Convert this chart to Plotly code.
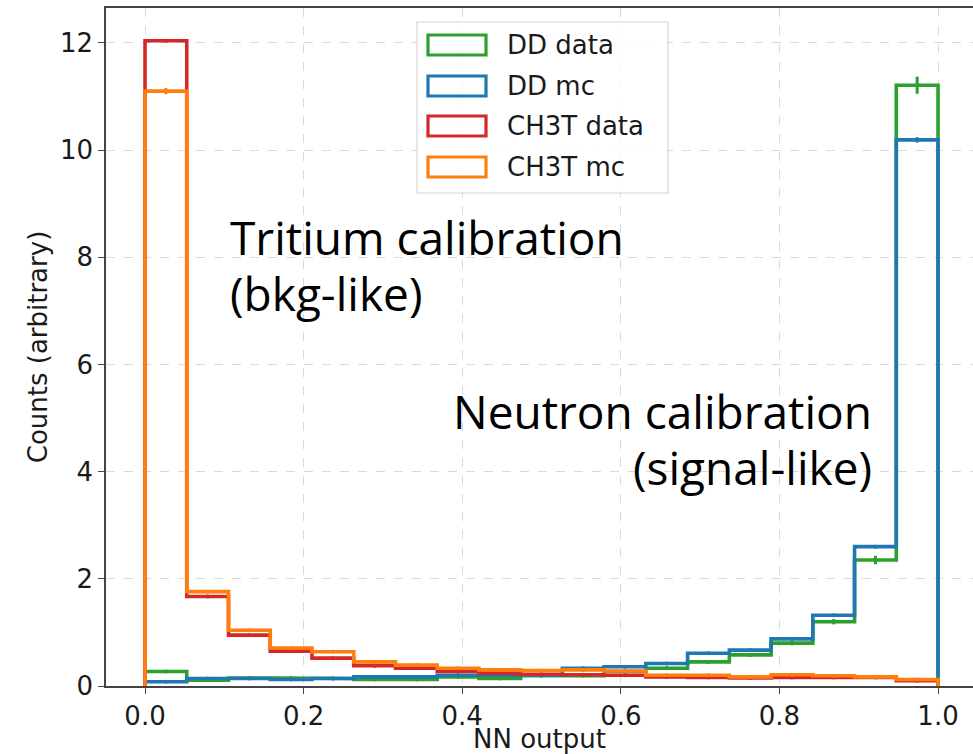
import plotly.graph_objects as go

# ---------------- data ----------------
bin_edges = [0.0, 0.05263, 0.10526, 0.15789, 0.21053, 0.26316, 0.31579, 0.36842,
             0.42105, 0.47368, 0.52632, 0.57895, 0.63158, 0.68421, 0.73684,
             0.78947, 0.84211, 0.89474, 0.94737, 1.0]

dd_data = [0.27, 0.11, 0.15, 0.15, 0.14, 0.12, 0.12, 0.17, 0.14, 0.19,
           0.19, 0.27, 0.33, 0.45, 0.58, 0.80, 1.20, 2.35, 11.21]
dd_data_err = [0.02, 0.02, 0.02, 0.02, 0.02, 0.02, 0.02, 0.02, 0.02, 0.02,
               0.02, 0.02, 0.03, 0.03, 0.03, 0.04, 0.05, 0.08, 0.16]

dd_mc = [0.08, 0.14, 0.14, 0.12, 0.14, 0.17, 0.17, 0.20, 0.20, 0.20,
         0.33, 0.36, 0.42, 0.61, 0.67, 0.88, 1.32, 2.60, 10.19]
dd_mc_err = [0.01, 0.01, 0.01, 0.01, 0.01, 0.01, 0.01, 0.01, 0.01, 0.01,
             0.01, 0.01, 0.01, 0.01, 0.01, 0.02, 0.02, 0.03, 0.05]

ch3t_data = [12.04, 1.67, 0.95, 0.65, 0.52, 0.38, 0.33, 0.27, 0.24, 0.22,
             0.21, 0.20, 0.17, 0.16, 0.15, 0.16, 0.16, 0.16, 0.10]
ch3t_data_err = [0.02, 0.01, 0.01, 0.01, 0.01, 0.01, 0.01, 0.01, 0.01, 0.01,
                 0.01, 0.01, 0.01, 0.01, 0.01, 0.01, 0.01, 0.01, 0.01]

ch3t_mc = [11.10, 1.76, 1.04, 0.71, 0.64, 0.45, 0.39, 0.33, 0.30, 0.29,
           0.30, 0.28, 0.20, 0.20, 0.17, 0.21, 0.19, 0.17, 0.12]
ch3t_mc_err = [0.06, 0.02, 0.01, 0.01, 0.01, 0.01, 0.01, 0.01, 0.01, 0.01,
               0.01, 0.01, 0.01, 0.01, 0.01, 0.01, 0.01, 0.01, 0.01]

series_names = ["DD data", "DD mc", "CH3T data", "CH3T mc"]
series_values = [dd_data, dd_mc, ch3t_data, ch3t_mc]
series_errors = [dd_data_err, dd_mc_err, ch3t_data_err, ch3t_mc_err]
series_colors = ["#2ca02c", "#1f77b4", "#d62728", "#ff7f0e"]

x_ticks = [0.0, 0.2, 0.4, 0.6, 0.8, 1.0]
x_tick_labels = ["0.0", "0.2", "0.4", "0.6", "0.8", "1.0"]
y_ticks = [0, 2, 4, 6, 8, 10, 12]
y_tick_labels = ["0", "2", "4", "6", "8", "10", "12"]

# ---------------- figure ----------------
W, H = 973, 754
L, R, T, B = 106, 0, 8, 68
PW, PH = W - L - R, H - T - B


def px_x(p):
    return (p - L) / PW


def px_y(p):
    return (H - B - p) / PH


fig = go.Figure()

for name, vals, errs, col in zip(series_names, series_values, series_errors, series_colors):
    xs = [bin_edges[0]]
    ys = [0]
    for i, v in enumerate(vals):
        xs += [bin_edges[i], bin_edges[i + 1]]
        ys += [v, v]
    xs.append(bin_edges[-1])
    ys.append(0)
    fig.add_trace(go.Scatter(x=xs, y=ys, mode="lines", name=name,
                             line=dict(color=col, width=3.6),
                             showlegend=False, hoverinfo="skip"))
    centers = [(bin_edges[i] + bin_edges[i + 1]) / 2 for i in range(len(vals))]
    fig.add_trace(go.Scatter(x=centers, y=vals, mode="markers", name=name,
                             marker=dict(color=col, size=4),
                             error_y=dict(type="data", array=errs, visible=True,
                                          color=col, thickness=3, width=0),
                             showlegend=False))

shapes = []
annotations = []

# legend box (matplotlib-like)
shapes.append(dict(type="rect", xref="paper", yref="paper",
                   x0=px_x(417), x1=px_x(668), y0=px_y(193), y1=px_y(22),
                   line=dict(color="#d6d6d6", width=1.2),
                   fillcolor="rgba(255,255,255,0.85)", layer="above"))
row_centers = [45, 86, 126, 167]
for name, col, rc in zip(series_names, series_colors, row_centers):
    shapes.append(dict(type="rect", xref="paper", yref="paper",
                       x0=px_x(428), x1=px_x(486), y0=px_y(rc + 10), y1=px_y(rc - 10),
                       line=dict(color=col, width=3.2), fillcolor="rgba(0,0,0,0)",
                       layer="above"))
    annotations.append(dict(xref="paper", yref="paper", x=px_x(505), y=px_y(rc),
                            xanchor="left", yanchor="middle", text=name, showarrow=False,
                            font=dict(family="DejaVu Sans", size=26, color="#1a1a1a")))

big_font = dict(family="Open Sans", size=46, color="black")
annotations += [
    dict(xref="paper", yref="paper", x=px_x(228), y=px_y(204), xanchor="left",
         yanchor="top", text="Tritium calibration", showarrow=False, font=big_font),
    dict(xref="paper", yref="paper", x=px_x(228), y=px_y(260), xanchor="left",
         yanchor="top", text="(bkg-like)", showarrow=False, font=big_font),
    dict(xref="paper", yref="paper", x=px_x(874), y=px_y(378), xanchor="right",
         yanchor="top", text="Neutron calibration", showarrow=False, font=big_font),
    dict(xref="paper", yref="paper", x=px_x(874), y=px_y(434), xanchor="right",
         yanchor="top", text="(signal-like)", showarrow=False, font=big_font),
]

tick_font = dict(family="DejaVu Sans", size=26, color="#1a1a1a")

fig.update_layout(
    width=W, height=H,
    margin=dict(l=L, r=R, t=T, b=B, pad=0),
    paper_bgcolor="white", plot_bgcolor="white",
    showlegend=False,
    shapes=shapes, annotations=annotations,
    xaxis=dict(range=[-0.0492, 1.0441], tickvals=x_ticks, ticktext=x_tick_labels,
               showgrid=True, gridcolor="#d9d9d9", griddash="dash", gridwidth=1,
               showline=True, linecolor="#444444", linewidth=1.5, mirror=True,
               ticks="outside", ticklen=6, tickcolor="#444444", tickwidth=1.2,
               tickfont=tick_font, zeroline=False,
               title=dict(text="NN output", font=dict(family="DejaVu Sans", size=26, color="#1a1a1a"),
                          standoff=3)),
    yaxis=dict(range=[0, 12.65], tickvals=y_ticks, ticktext=y_tick_labels,
               showgrid=True, gridcolor="#d9d9d9", griddash="dash", gridwidth=1,
               showline=True, linecolor="#444444", linewidth=1.5, mirror=False,
               ticks="outside", ticklen=6, tickcolor="#444444", tickwidth=1.2,
               tickfont=tick_font, zeroline=False,
               title=dict(text="Counts (arbitrary)", font=dict(family="DejaVu Sans", size=26, color="#1a1a1a"),
                          standoff=5)),
)

fig.write_html("out.html")
